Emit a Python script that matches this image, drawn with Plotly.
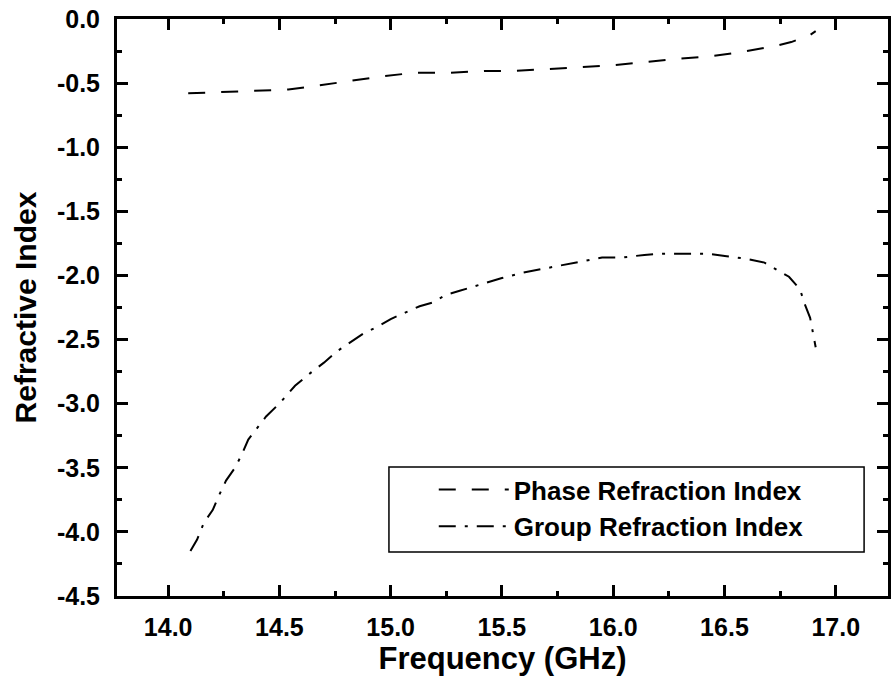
import plotly.graph_objects as go

# Phase refraction index (dashed curve)
phase_freq = [14.09, 14.24, 14.39, 14.54, 14.69, 14.83, 14.97, 15.105, 15.27, 15.42,
              15.56, 15.71, 15.85, 16.00, 16.15, 16.29, 16.44, 16.57, 16.73, 16.80,
              16.88, 16.91]
phase_n = [-0.58, -0.57, -0.56, -0.55, -0.515, -0.48, -0.445, -0.42, -0.42, -0.405,
           -0.405, -0.39, -0.375, -0.36, -0.335, -0.31, -0.29, -0.26, -0.21, -0.18,
           -0.13, -0.095]

# Group refraction index (dash-dot curve)
group_freq = [14.10, 14.13, 14.16, 14.20, 14.23, 14.26, 14.30, 14.33, 14.36, 14.44,
              14.505, 14.57, 14.64, 14.70, 14.76, 14.82, 14.88, 14.94, 15.00, 15.065,
              15.13, 15.19, 15.25, 15.31, 15.40, 15.50, 15.59, 15.68, 15.77, 15.86,
              15.95, 16.04, 16.14, 16.23, 16.33, 16.42, 16.51, 16.55, 16.60, 16.68,
              16.73, 16.79, 16.84, 16.86, 16.885, 16.895, 16.91]
group_n = [-4.15, -4.06, -3.93, -3.83, -3.71, -3.60, -3.50, -3.40, -3.28, -3.10,
           -2.99, -2.86, -2.76, -2.68, -2.59, -2.52, -2.45, -2.40, -2.34, -2.29,
           -2.24, -2.21, -2.15, -2.12, -2.07, -2.02, -1.98, -1.95, -1.92, -1.89,
           -1.86, -1.86, -1.84, -1.83, -1.83, -1.83, -1.85, -1.86, -1.87, -1.90,
           -1.95, -2.01, -2.11, -2.22, -2.33, -2.43, -2.56]

x_ticks = [14.0, 14.5, 15.0, 15.5, 16.0, 16.5, 17.0]
y_ticks = [0.0, -0.5, -1.0, -1.5, -2.0, -2.5, -3.0, -3.5, -4.0, -4.5]

FONT = "Liberation Sans, Arial, sans-serif"

fig = go.Figure()
fig.add_trace(go.Scatter(
    x=phase_freq, y=phase_n, mode="lines", name="<b>Phase Refraction Index</b>",
    line=dict(color="black", width=2, dash="17px,16px"),
))
fig.add_trace(go.Scatter(
    x=group_freq, y=group_n, mode="lines", name="<b>Group Refraction Index</b>",
    line=dict(color="black", width=2, dash="17px,9px,3px,9px"),
))

axis_common = dict(
    showline=True, linecolor="black", linewidth=3, mirror="ticks",
    ticks="inside", ticklen=11, tickwidth=3, tickcolor="black",
    showgrid=False, zeroline=False,
    tickfont=dict(family=FONT, size=25, color="black"),
)

fig.update_xaxes(
    range=[13.77, 17.235], tickvals=x_ticks,
    ticktext=[f"<b>{v:.1f}</b>" for v in x_ticks],
    minor=dict(ticks="inside", ticklen=5, tickwidth=3, tickcolor="black", dtick=0.25, tick0=14.0),
    ticklabelstandoff=7,
    title=dict(text="<b>Frequency (GHz)</b>", font=dict(family=FONT, size=31, color="black"), standoff=4),
    **axis_common,
)
fig.update_yaxes(
    range=[-4.5, 0.0], tickvals=y_ticks,
    ticktext=[f"<b>{v:.1f}</b>" for v in y_ticks],
    minor=dict(ticks="inside", ticklen=5, tickwidth=3, tickcolor="black", dtick=0.25, tick0=0.0),
    ticklabelstandoff=9,
    title=dict(text="<b>Refractive Index</b>", font=dict(family=FONT, size=30, color="black"), standoff=12),
    **axis_common,
)

# Legend frame
fig.add_shape(type="rect", xref="paper", yref="paper",
              x0=(390 - 117) / 774, x1=(867 - 117) / 774,
              y0=(596 - 552) / 577, y1=(596 - 467) / 577,
              line=dict(color="black", width=1.5), fillcolor="rgba(0,0,0,0)")

fig.update_layout(
    width=891, height=692,
    margin=dict(l=117, r=0, t=19, b=96),
    paper_bgcolor="white", plot_bgcolor="white",
    showlegend=True,
    legend=dict(
        x=(435 - 117) / 774, y=(596 - 466) / 577, xanchor="left", yanchor="top",
        bgcolor="rgba(0,0,0,0)", borderwidth=0,
        font=dict(family=FONT, size=26, color="black"),
        itemwidth=70, tracegroupgap=0,
    ),
)

fig.write_html("out.html")
